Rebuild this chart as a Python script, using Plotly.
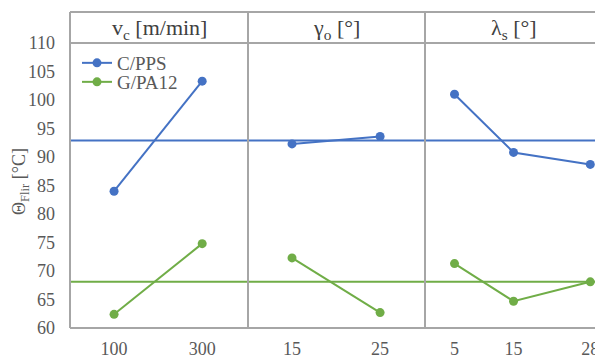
import plotly.graph_objects as go

# Main-effect levels for each cutting parameter
vc_levels = [100, 300]          # v_c [m/min]
gamma_levels = [15, 25]         # gamma_o [deg]
lambda_levels = [5, 15, 28]     # lambda_s [deg]

# Mean Flir temperature per level, C/PPS
cpps_vc = [84.0, 103.3]
cpps_gamma = [92.3, 93.6]
cpps_lambda = [101.0, 90.8, 88.7]
cpps_mean = 92.9

# Mean Flir temperature per level, G/PA12
gpa_vc = [62.4, 74.8]
gpa_gamma = [72.3, 62.7]
gpa_lambda = [71.3, 64.7, 68.1]
gpa_mean = 68.1

panel_titles = ["v<sub>c</sub> [m/min]", "γ<sub>o</sub> [°]", "λ<sub>s</sub> [°]"]

BLUE = "#4472C4"
GREEN = "#70AD47"
FRAME = "#A6A6A6"
TEXT = "#595959"
SERIF = "Liberation Serif"

W, H = 595, 356
px = lambda x: x / W
py = lambda y: 1 - y / H

x_edges = [70, 248, 425, 595]
y_bottom, y_top, y_head = 328, 43, 12

fig = go.Figure()

panels = [
    ("x", vc_levels, cpps_vc, gpa_vc),
    ("x2", gamma_levels, cpps_gamma, gpa_gamma),
    ("x3", lambda_levels, cpps_lambda, gpa_lambda),
]
for i, (xa, lv, c, g) in enumerate(panels):
    fig.add_trace(go.Scatter(
        x=lv, y=c, xaxis=xa, yaxis="y", mode="lines+markers",
        name="C/PPS", legend="legend", showlegend=(i == 0),
        line=dict(color=BLUE, width=2), marker=dict(color=BLUE, size=9),
        cliponaxis=False))
    fig.add_trace(go.Scatter(
        x=lv, y=g, xaxis=xa, yaxis="y", mode="lines+markers",
        name="G/PA12", legend="legend2", showlegend=(i == 0),
        line=dict(color=GREEN, width=2), marker=dict(color=GREEN, size=9),
        cliponaxis=False))

xaxis_common = dict(
    showgrid=False, zeroline=False, showline=False, anchor="y",
    ticks="", tickfont=dict(family=SERIF, size=18, color=TEXT),
    ticklabelstandoff=8, ticklabeloverflow="allow",
    automargin=False, fixedrange=True,
)
fig.update_layout(
    font=dict(family=SERIF),
    xaxis=dict(domain=[px(x_edges[0]), px(x_edges[1])], range=[0, 404],
               tickvals=vc_levels, **xaxis_common),
    xaxis2=dict(domain=[px(x_edges[1]), px(x_edges[2])], range=[10, 30.1],
                tickvals=gamma_levels, **xaxis_common),
    xaxis3=dict(domain=[px(x_edges[2]), px(x_edges[3])], range=[0, 28.8],
                tickvals=lambda_levels, **xaxis_common),
    yaxis=dict(domain=[py(y_bottom), py(y_top)], range=[60, 110],
               dtick=5, showgrid=False, zeroline=False, showline=False,
               ticks="", ticklabelstandoff=14, automargin=False,
               tickfont=dict(family=SERIF, size=18, color=TEXT),
               anchor="x", fixedrange=True),
)

shapes = []
# Overall mean reference lines across all panels
for m, col in [(cpps_mean, BLUE), (gpa_mean, GREEN)]:
    shapes.append(dict(type="line", xref="paper", yref="y",
                       x0=px(x_edges[0]), x1=1, y0=m, y1=m,
                       line=dict(color=col, width=2), layer="below"))
# Frame: top, header separator, bottom, left and panel dividers
for yy in (y_head, y_top, y_bottom):
    shapes.append(dict(type="line", xref="paper", yref="paper",
                       x0=px(x_edges[0]), x1=1, y0=py(yy), y1=py(yy),
                       line=dict(color=FRAME, width=2)))
for xx in x_edges[:3]:
    shapes.append(dict(type="line", xref="paper", yref="paper",
                       x0=px(xx), x1=px(xx), y0=py(y_bottom), y1=py(y_head),
                       line=dict(color=FRAME, width=2)))

annotations = []
centers = [(70 + 248) / 2, (248 + 425) / 2, (425 + 603) / 2]
for cx, t in zip(centers, panel_titles):
    annotations.append(dict(x=px(cx), y=py((y_head + y_top) / 2 + 1),
                            xref="paper", yref="paper", text=t,
                            showarrow=False, xanchor="center", yanchor="middle",
                            font=dict(family=SERIF, size=22, color="#404040")))
annotations.append(dict(x=px(20), y=py(182), xref="paper", yref="paper",
                        text="Θ<sub>Flir</sub> [°C]", textangle=-90,
                        showarrow=False, xanchor="center", yanchor="middle",
                        font=dict(family=SERIF, size=18, color=TEXT)))

legend_style = dict(xanchor="left", yanchor="top", bgcolor="rgba(0,0,0,0)",
                    itemwidth=30, font=dict(family=SERIF, size=19, color=TEXT))
fig.update_layout(
    width=W, height=H,
    margin=dict(l=0, r=0, t=0, b=0),
    paper_bgcolor="white", plot_bgcolor="white",
    shapes=shapes, annotations=annotations,
    showlegend=True,
    legend=dict(x=px(77), y=py(44), **legend_style),
    legend2=dict(x=px(77), y=py(63), **legend_style),
)

fig.write_html("out.html", config={"displayModeBar": False})
